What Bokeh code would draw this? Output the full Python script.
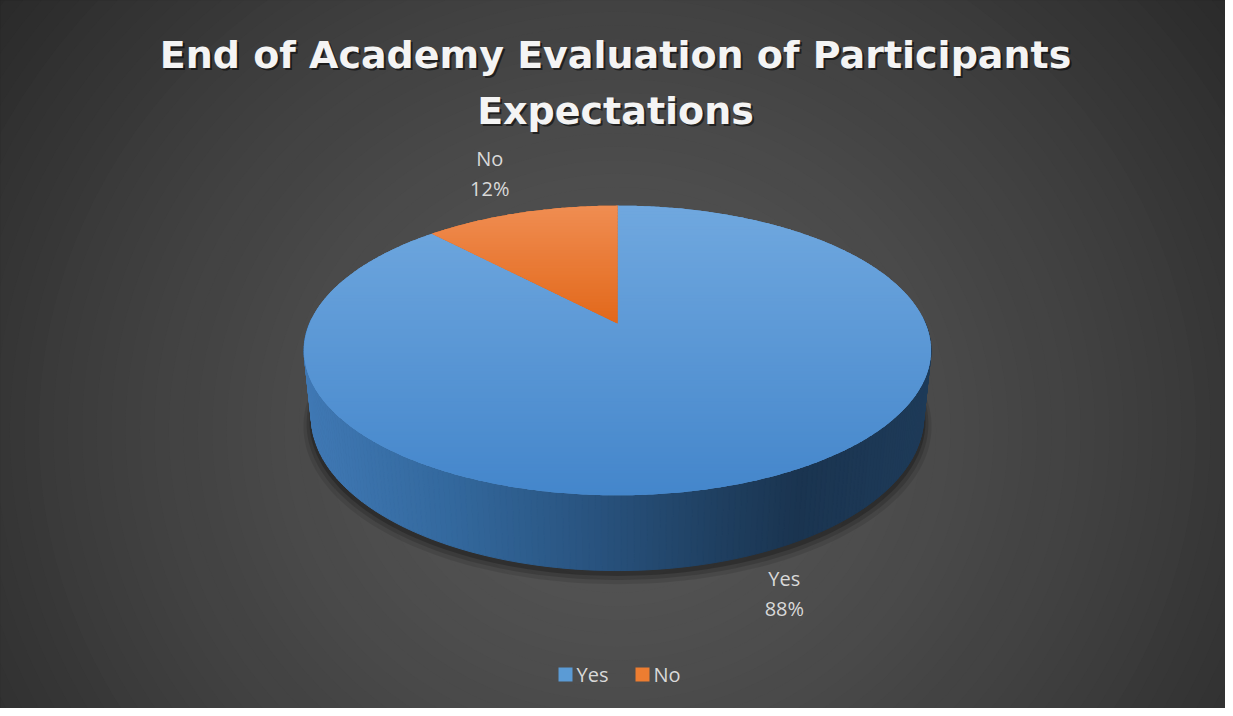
import math
import numpy as np
from bokeh.plotting import figure
from bokeh.models import Range1d, Label
from bokeh.core.properties import value
from bokeh.embed import file_html
from bokeh.resources import INLINE

# ---------------- data ----------------
categories = ["Yes", "No"]
values = [88, 12]
pct_labels = ["88%", "12%"]
legend_colors = ["#5b9bd5", "#ed7d31"]
top_colors = [("#70a8df", "#4486cb"), ("#f08d52", "#e2681a")]
title_lines = ["End of Academy Evaluation of Participants", "Expectations"]

# ---------------- canvas ----------------
W, H = 1225, 708
OX, OY = 0, 0
p = figure(width=W, height=H, x_range=Range1d(OX, OX + W), y_range=Range1d(OY + H, OY),
           output_backend="svg", toolbar_location=None, min_border=0,
           x_axis_location=None, y_axis_location=None)
p.grid.visible = False
p.outline_line_color = None
p.background_fill_color = "#2a2a2a"
p.border_fill_color = "#2a2a2a"

# background radial gradient (concentric ellipses)
BCX, BCY, BRX, BRY = 617, 430, 750, 700
n_bg = 70
rs = np.linspace(1.35, 0.02, n_bg)
bg_cols = []
for r in rs:
    c = int(round(max(38, 86 - 42 * r ** 1.5)))
    bg_cols.append("#%02x%02x%02x" % (c, c, c))
p.ellipse(x=[BCX] * n_bg, y=[BCY] * n_bg, width=list(2 * BRX * rs), height=list(2 * BRY * rs),
          fill_color=bg_cols, line_color=None)

# ---------------- 3D pie projection ----------------
CX, CY = 617, 323
S_A, C_A = 0.454, 0.891
D, F, HGT = 4.786, 1474.0, 0.244


def proj(theta_deg, Y, r=1.0):
    t = math.radians(theta_deg)
    X = r * math.sin(t)
    Z = -r * math.cos(t)
    yc = -Z * S_A + Y * C_A
    depth = D - Z * C_A - Y * S_A
    return CX + F * X / depth, CY - F * yc / depth


total = float(sum(values))
starts, ends = [], []
acc = 0.0
for v in values:
    starts.append(acc / total * 360.0)
    acc += v
    ends.append(acc / total * 360.0)


def lerp_col(c1, c2, t):
    a = [int(c1[i:i + 2], 16) for i in (1, 3, 5)]
    b = [int(c2[i:i + 2], 16) for i in (1, 3, 5)]
    return "#%02x%02x%02x" % tuple(int(round(a[k] + (b[k] - a[k]) * t)) for k in range(3))


# shadow under the pie
for k, (dy, rm, al) in enumerate([(8, 1.025, 0.10), (6, 1.015, 0.15), (4, 1.006, 0.22)]):
    pts = [proj(th, -HGT, rm) for th in np.linspace(0, 360, 241)]
    p.patch([q[0] for q in pts], [q[1] + dy for q in pts], fill_color="black", fill_alpha=al, line_color=None)

# side wall (visible near half)
side_stops = [(300, "#4079b5"), (450, "#33689d"), (600, "#28527d"), (720, "#1f3f60"),
              (800, "#1a3450"), (935, "#1e3b59")]


def side_col(x):
    for i in range(len(side_stops) - 1):
        x0, c0 = side_stops[i]
        x1, c1 = side_stops[i + 1]
        if x <= x1:
            return lerp_col(c0, c1, min(1, max(0, (x - x0) / (x1 - x0))))
    return side_stops[-1][1]


xs_side, ys_side, cs_side = [], [], []
for i in range(len(values)):
    a0, a1 = max(starts[i], 88.0), min(ends[i], 272.0)
    if a1 <= a0:
        continue
    ths = np.linspace(a0, a1, int((a1 - a0) / 1.0) + 2)
    for j in range(len(ths) - 1):
        q1, q2 = proj(ths[j], 0), proj(ths[j + 1], 0)
        q3, q4 = proj(ths[j + 1], -HGT), proj(ths[j], -HGT)
        col = side_col((q1[0] + q2[0]) / 2)
        xs_side.append([q1[0], q2[0], q3[0], q4[0]])
        ys_side.append([q1[1], q2[1], q3[1], q4[1]])
        cs_side.append(col)
p.patches(xs_side, ys_side, fill_color=cs_side, line_color=cs_side, line_width=1)


# top faces with vertical gradient
def clip_half(poly, y0, keep_above):
    out = []
    n = len(poly)
    for i in range(n):
        P, Q = poly[i], poly[(i + 1) % n]
        inP = P[1] >= y0 if keep_above else P[1] <= y0
        inQ = Q[1] >= y0 if keep_above else Q[1] <= y0
        if inP:
            out.append(P)
        if inP != inQ:
            t = (y0 - P[1]) / (Q[1] - P[1])
            out.append((P[0] + t * (Q[0] - P[0]), y0))
    return out


for i in range(len(values)):
    arc = [proj(th, 0) for th in np.linspace(starts[i], ends[i], max(3, int(ends[i] - starts[i]) * 2))]
    poly = [(CX, CY)] + arc
    ys = [q[1] for q in poly]
    ymin, ymax = min(ys), max(ys)
    c_top, c_bot = top_colors[i]
    p.patch([q[0] for q in poly], [q[1] for q in poly], fill_color=lerp_col(c_top, c_bot, 0.5), line_color=None)
    nb = max(2, int((ymax - ymin) / 3))
    edges = np.linspace(ymin, ymax, nb + 1)
    bx, by, bc = [], [], []
    for b in range(nb):
        part = clip_half(clip_half(poly, edges[b] - 0.4, True), edges[b + 1] + 0.4, False)
        if len(part) < 3:
            continue
        bx.append([q[0] for q in part])
        by.append([q[1] for q in part])
        bc.append(lerp_col(c_top, c_bot, (b + 0.5) / nb))
    p.patches(bx, by, fill_color=bc, line_color=None)

# data labels
LBL_FONT = value("Open Sans")
label_specs = [(1.2, -HGT), (1.4, 0.0)]
for i in range(len(values)):
    mid = (starts[i] + ends[i]) / 2
    r, Y = label_specs[i]
    lx, ly = proj(mid, Y, r)
    p.text(x=[lx, lx], y=[ly - 18, ly + 12], text=[categories[i], pct_labels[i]],
           text_align="center", text_baseline="middle", text_font=LBL_FONT,
           text_font_size="20px", text_color="#d9d9d9")

# legend
leg_x = [565, 642]
for i in range(len(categories)):
    p.scatter(x=[leg_x[i]], y=[674], marker="square", size=14, fill_color=legend_colors[i], line_color=None)
    p.text(x=[leg_x[i] + 11], y=[674], text=[categories[i]], text_align="left", text_baseline="middle",
           text_font=LBL_FONT, text_font_size="20px", text_color="#d9d9d9")

# title with shadow
TFONT = "DejaVu Sans"
for k, line in enumerate(title_lines):
    base = 54 + 56 * k
    p.add_layout(Label(x=615 + 2, y=base + 2, text=line, text_align="center", text_baseline="alphabetic",
                       text_font=TFONT, text_font_size="38px", text_font_style="bold",
                       text_color="black", text_alpha=0.55))
    p.add_layout(Label(x=615, y=base, text=line, text_align="center", text_baseline="alphabetic",
                       text_font=TFONT, text_font_size="38px", text_font_style="bold",
                       text_color="#f4f4f4"))

open("out.html", "w").write(file_html(p, INLINE))
